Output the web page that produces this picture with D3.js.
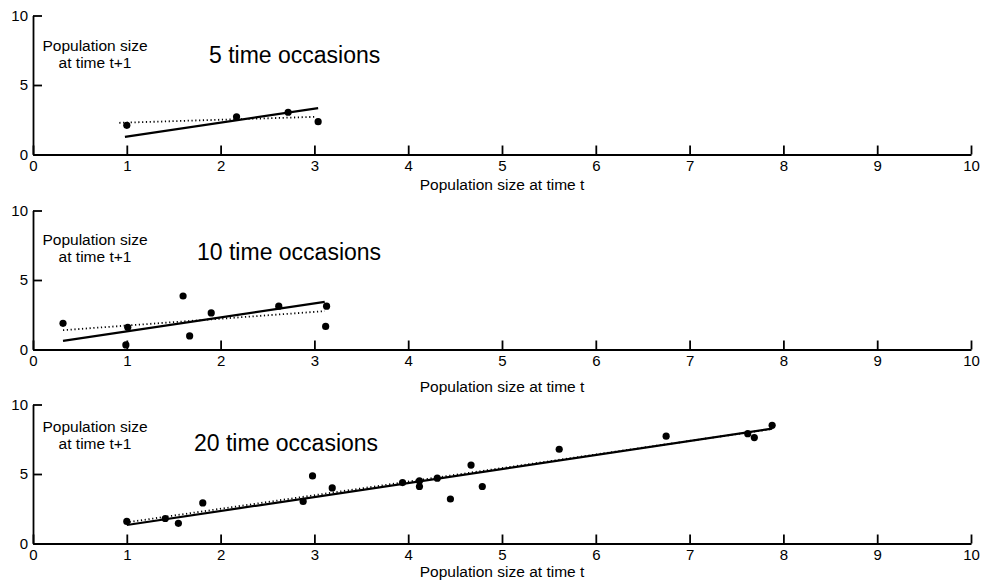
<!DOCTYPE html>
<html>
<head>
<meta charset="utf-8">
<script src="https://cdn.jsdelivr.net/npm/d3@7"></script>
<style>
	body { margin: 0; background: #fff; }
	svg { display: block; }
	text { font-family: "Liberation Sans", Arial, sans-serif; fill: #000; }
</style>
</head>
<body>
<div id="chart"></div>
<script>
// axis ticks shared by all three panels
const xTicks = [0, 1, 2, 3, 4, 5, 6, 7, 8, 9, 10];
const yTicks = [0, 5, 10];

const titles = ["5 time occasions", "10 time occasions", "20 time occasions"];
const yLabelLines = ["Population size", "at time t+1"];
const xLabel = "Population size at time t";

const points5 = [[1.0, 2.1], [2.17, 2.71], [2.72, 3.04], [3.04, 2.36]];
const points10 = [[0.32, 1.88], [0.99, 0.33], [1.01, 1.6], [1.6, 3.85], [1.67, 0.98],
	[1.9, 2.63], [2.62, 3.12], [3.13, 3.12], [3.12, 1.66]];
const points20 = [[1.0, 1.59], [1.41, 1.8], [1.55, 1.45], [1.81, 2.92], [2.88, 3.03],
	[2.98, 4.86], [3.19, 4.0], [3.94, 4.38], [4.12, 4.5], [4.12, 4.1], [4.31, 4.7],
	[4.45, 3.2], [4.67, 5.64], [4.79, 4.1], [5.61, 6.78], [6.75, 7.72], [7.62, 7.9],
	[7.69, 7.62], [7.88, 8.5]];

// fitted lines: [x1, y1, x2, y2]
const solidFits = [[0.98, 1.27, 3.04, 3.34], [0.32, 0.62, 3.11, 3.43], [1.0, 1.33, 7.88, 8.26]];
const dottedFits = [[0.92, 2.28, 3.01, 2.71], [0.32, 1.39, 3.11, 2.76], [1.03, 1.55, 7.86, 8.22]];

const pointSets = [points5, points10, points20];

const width = 987, height = 586;
const left = 33, right = 971, panelHeight = 139;
// per panel placement: top edge, x label offset, y label offset, title position
const layout = [
	{top: 15.5, xLab: 35, yLab: 35, titleX: 209, title: 47},
	{top: 210.5, xLab: 42, yLab: 34, titleX: 197, title: 49},
	{top: 404.5, xLab: 33, yLab: 27, titleX: 194, title: 46}
];

const svg = d3.select("#chart").append("svg")
	.attr("width", width)
	.attr("height", height);

const x = d3.scaleLinear().domain([0, 10]).range([left, right]);

pointSets.forEach((pts, i) => {
	const lay = layout[i];
	const y = d3.scaleLinear().domain([0, 10]).range([lay.top + panelHeight, lay.top]);
	const g = svg.append("g").attr("class", "panel");

	const xAxis = g.append("g")
		.attr("transform", "translate(0," + (lay.top + panelHeight) + ")")
		.call(d3.axisBottom(x).tickValues(xTicks).tickFormat(d3.format("d"))
			.tickSizeInner(-9).tickSizeOuter(0).tickPadding(6));
	const yAxis = g.append("g")
		.attr("transform", "translate(" + left + ",0)")
		.call(d3.axisLeft(y).tickValues(yTicks).tickFormat(d3.format("d"))
			.tickSizeInner(-9).tickSizeOuter(0).tickPadding(5));

	[xAxis, yAxis].forEach(a => {
		a.selectAll("path, line").attr("stroke", "#000").attr("stroke-width", 1.8);
		a.selectAll("text").style("font-size", "15px")
			.style("font-family", "'Liberation Sans', Arial, sans-serif");
	});

	g.append("text")
		.attr("x", x(5))
		.attr("y", lay.top + panelHeight + lay.xLab)
		.attr("text-anchor", "middle")
		.style("font-size", "15.5px")
		.text(xLabel);

	g.append("text")
		.attr("x", 95)
		.attr("y", lay.top + lay.yLab)
		.attr("text-anchor", "middle")
		.style("font-size", "15.5px")
		.selectAll("tspan")
		.data(yLabelLines).enter()
		.append("tspan")
		.attr("x", 95)
		.attr("dy", (d, k) => k ? "1.15em" : 0)
		.text(d => d);

	g.append("text")
		.attr("x", lay.titleX)
		.attr("y", lay.top + lay.title)
		.style("font-size", "23px")
		.text(titles[i]);

	g.append("line")
		.attr("x1", x(dottedFits[i][0])).attr("y1", y(dottedFits[i][1]))
		.attr("x2", x(dottedFits[i][2])).attr("y2", y(dottedFits[i][3]))
		.attr("stroke", "#000")
		.attr("stroke-width", 1.8)
		.attr("stroke-dasharray", "1.2,2.6");

	g.append("line")
		.attr("x1", x(solidFits[i][0])).attr("y1", y(solidFits[i][1]))
		.attr("x2", x(solidFits[i][2])).attr("y2", y(solidFits[i][3]))
		.attr("stroke", "#000")
		.attr("stroke-width", 2.2);

	g.selectAll(".dot")
		.data(pts).enter()
		.append("circle")
		.attr("class", "dot")
		.attr("cx", d => x(d[0]))
		.attr("cy", d => y(d[1]))
		.attr("r", 3.6)
		.attr("fill", "#000");
});
</script>
</body>
</html>
